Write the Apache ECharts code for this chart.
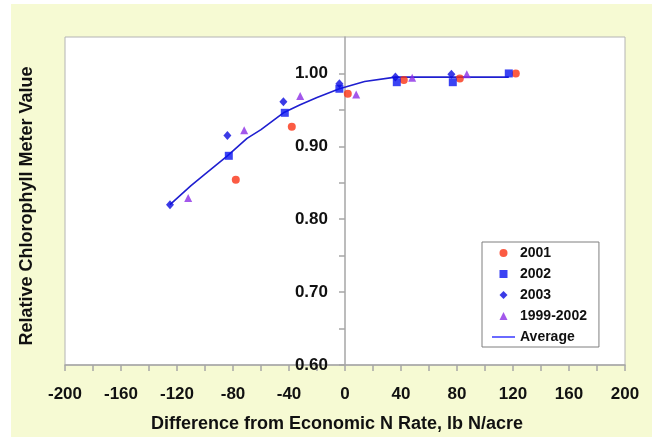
<!DOCTYPE html>
<html>
<head>
<meta charset="utf-8">
<script src="https://cdn.jsdelivr.net/npm/echarts@6/dist/echarts.min.js"></script>
<style>
html,body{margin:0;padding:0;background:#ffffff;}
#chart{width:652px;height:437px;}
</style>
</head>
<body>
<div id="chart"></div>
<script>
// ---- data ----
const series2001 = [[-78, 0.854], [-38, 0.927], [2, 0.972], [42, 0.991], [82, 0.993], [122, 1.000]];
const series2002 = [[-83, 0.887], [-43, 0.946], [-4, 0.979], [37, 0.988], [77, 0.988], [117, 1.000]];
const series2003 = [[-125, 0.820], [-84, 0.915], [-44, 0.961], [-4, 0.986], [36, 0.995], [76, 0.999]];
const series9902 = [[-112, 0.829], [-72, 0.922], [-32, 0.969], [8, 0.971], [48, 0.994], [87, 0.999]];
const averageLine = [[-125, 0.820], [-110, 0.846], [-100, 0.862], [-84, 0.887], [-70, 0.911], [-60, 0.923],
  [-44, 0.946], [-32, 0.957], [-20, 0.967], [-4, 0.979], [14, 0.989], [36, 0.995], [117, 0.995]];
const seriesNames = ['2001', '2002', '2003', '1999-2002', 'Average'];
const xTitle = 'Difference from Economic N Rate, lb N/acre';
const yTitle = 'Relative Chlorophyll Meter Value';

const FONT = '"Liberation Sans", Arial, sans-serif';
const chart = echarts.init(document.getElementById('chart'), null, {renderer: 'canvas'});
const axisGray = '#a6a6a6';

chart.setOption({
  animation: false,
  backgroundColor: '#ffffff',
  graphic: [
    {type: 'rect', z: -10, x: 11, y: 4, shape: {x: 0, y: 0, width: 641, height: 433},
     style: {fill: '#f6fad3'}},
    {type: 'text', z: 10, x: 337, y: 424,
     style: {text: xTitle, x: 0, y: 0, textAlign: 'center', textVerticalAlign: 'middle',
       font: 'bold 18px ' + FONT, fill: '#111'}},
    {type: 'text', z: 10, rotation: Math.PI / 2, x: 27, y: 206,
     style: {text: yTitle, x: 0, y: 0, textAlign: 'center', textVerticalAlign: 'middle',
       font: 'bold 18px ' + FONT, fill: '#111'}}
  ],
  grid: {left: 65, right: 27, top: 37, bottom: 72, show: true, backgroundColor: '#ffffff',
    borderColor: '#b4b4b4', borderWidth: 1},
  legend: {
    orient: 'vertical', left: 482, top: 242,
    backgroundColor: '#ffffff', borderColor: '#7f7f7f', borderWidth: 1,
    padding: [4, 12, 3, 10], itemGap: 7, itemWidth: 23, itemHeight: 8,
    symbolKeepAspect: true,
    textStyle: {fontFamily: FONT, fontWeight: 'bold', fontSize: 14, color: '#111'},
    data: [
      {name: seriesNames[0], icon: 'circle'},
      {name: seriesNames[1], icon: 'path://M0,0H10V10H0Z'},
      {name: seriesNames[2], icon: 'path://M5,0L10,5L5,10L0,5Z'},
      {name: seriesNames[3], icon: 'path://M5,0L10,10H0Z'},
      {name: seriesNames[4], icon: 'path://M0,0H115V10H0Z', itemStyle: {color: '#6a6aff'}}
    ]
  },
  xAxis: {
    type: 'value', min: -200, max: 200, interval: 20,
    axisLine: {onZero: false, lineStyle: {color: axisGray, width: 1.5}},
    axisTick: {show: true, length: 6, lineStyle: {color: axisGray, width: 1.5}},
    splitLine: {show: false},
    axisLabel: {margin: 21, fontFamily: FONT, fontWeight: 'bold', fontSize: 17, color: '#111',
      formatter: v => (Math.round(v) % 40 === 0 ? String(Math.round(v)) : '')}
  },
  yAxis: {
    type: 'value', min: 0.6, max: 1.05, interval: 0.05, position: 'left', offset: -280,
    axisLine: {show: true, onZero: false, lineStyle: {color: axisGray, width: 1.5}},
    axisTick: {show: true, length: 6, lineStyle: {color: axisGray, width: 1.5}},
    splitLine: {show: false},
    axisLabel: {margin: 17, fontFamily: FONT, fontWeight: 'bold', fontSize: 17, color: '#111',
      showMaxLabel: false,
      formatter: v => {const k = Math.round(v * 100); return (k % 10 === 0 && k <= 100) ? (k / 100).toFixed(2) : '';}}
  },
  series: [
    {name: seriesNames[4], type: 'line', data: averageLine, showSymbol: false, symbol: 'none', z: 2,
     lineStyle: {color: '#1f1fd0', width: 1.6}, itemStyle: {color: '#1f1fd0'}},
    {name: seriesNames[0], type: 'scatter', data: series2001, symbol: 'circle', symbolSize: 8, z: 3,
     itemStyle: {color: '#fa3214'}},
    {name: seriesNames[1], type: 'scatter', data: series2002, symbol: 'rect', symbolSize: 8, z: 3,
     itemStyle: {color: '#0a14f0'}},
    {name: seriesNames[2], type: 'scatter', data: series2003, symbol: 'diamond', symbolSize: [8, 9], z: 3,
     itemStyle: {color: '#0a0ae0'}},
    {name: seriesNames[3], type: 'scatter', data: series9902, symbol: 'triangle', symbolSize: 8, z: 3,
     itemStyle: {color: '#8c2ee6'}}
  ]
});
</script>
</body>
</html>
